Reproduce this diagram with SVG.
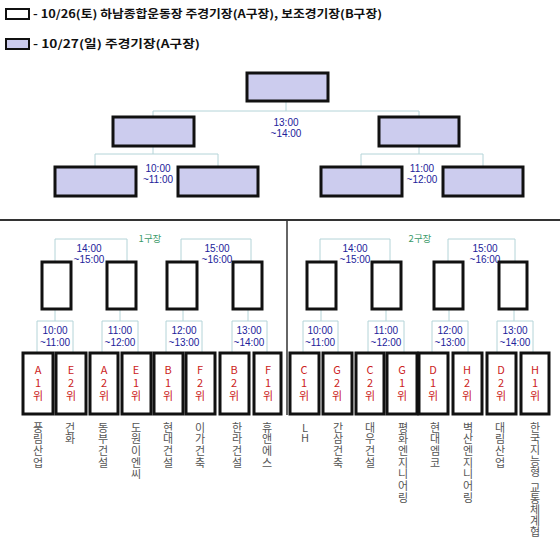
<svg xmlns="http://www.w3.org/2000/svg" width="560" height="559" viewBox="0 0 560 559">
<style>
.leg{font-family:"Noto Sans CJK KR","Liberation Sans",sans-serif;font-weight:bold;font-size:11px;fill:#111}
.lbox{stroke:#111;stroke-width:2}
.tb{fill:#ccccee;stroke:#111;stroke-width:3}
.wb{fill:#fff;stroke:#111;stroke-width:3}
.ln{fill:none;stroke:#b4d4d8;stroke-width:1}
.tm{font-family:"Liberation Sans","Noto Sans CJK KR",sans-serif;font-size:10px;fill:#22229a;text-anchor:middle}
.grp{font-family:"Noto Sans CJK KR","Liberation Sans",sans-serif;font-size:9.5px;fill:#3a9a6a;text-anchor:middle}
.rk{font-family:"Noto Sans CJK KR","Liberation Sans",sans-serif;font-size:11px;fill:#cc2222;writing-mode:vertical-rl;text-orientation:upright;letter-spacing:2px}
.nm{font-family:"Noto Sans CJK KR","Liberation Sans",sans-serif;font-size:11px;fill:#555;writing-mode:vertical-rl;text-orientation:upright;letter-spacing:0.7px}
</style>

<g id="legend">
<rect class="lbox" x="6" y="9" width="23" height="10" fill="#fff"/>
<text class="leg" x="33" y="18" textLength="349" lengthAdjust="spacingAndGlyphs">- 10/26(토) 하남종합운동장 주경기장(A구장), 보조경기장(B구장)</text>
<rect class="lbox" x="6" y="39" width="23" height="10" fill="#ccccee"/>
<text class="leg" x="33" y="48" textLength="167" lengthAdjust="spacingAndGlyphs">- 10/27(일) 주경기장(A구장)</text>
</g>

<g id="connectors">
<polyline class="ln" points="286,101 286,111"/>
<polyline class="ln" points="153,117 153,111 419,111 419,117"/>
<polyline class="ln" points="153,146 153,154"/>
<polyline class="ln" points="95,167 95,154 218,154 218,167"/>
<polyline class="ln" points="419,146 419,154"/>
<polyline class="ln" points="361,167 361,154 483,154 483,167"/>

<polyline class="ln" points="55,262 55,239 127,239 127,262"/>
<polyline class="ln" points="181,262 181,239 251,239 251,262"/>
<polyline class="ln" points="320,262 320,239 390,239 390,262"/>
<polyline class="ln" points="448,262 448,239 515,239 515,262"/>

<polyline class="ln" points="55,309 55,321"/>
<polyline class="ln" points="37,353 37,321 73,321 73,353"/>
<polyline class="ln" points="120,309 120,321"/>
<polyline class="ln" points="102,353 102,321 138,321 138,353"/>
<polyline class="ln" points="183,309 183,321"/>
<polyline class="ln" points="166,353 166,321 202,321 202,353"/>
<polyline class="ln" points="248,309 248,321"/>
<polyline class="ln" points="232,353 232,321 267,321 267,353"/>

<polyline class="ln" points="321,309 321,321"/>
<polyline class="ln" points="303,353 303,321 338,321 338,353"/>
<polyline class="ln" points="386,309 386,321"/>
<polyline class="ln" points="368,353 368,321 404,321 404,353"/>
<polyline class="ln" points="449,309 449,321"/>
<polyline class="ln" points="432,353 432,321 468,321 468,353"/>
<polyline class="ln" points="514,309 514,321"/>
<polyline class="ln" points="497,353 497,321 533,321 533,353"/>
</g>

<g id="dividers">
<line x1="0" y1="220" x2="560" y2="220" stroke="#333" stroke-width="2"/>
<line x1="287" y1="220" x2="287" y2="415" stroke="#333" stroke-width="1.5"/>
</g>

<g id="tree-top">
<rect class="tb" x="247" y="73" width="81" height="28"/>
<rect class="tb" x="113" y="117" width="81" height="29"/>
<rect class="tb" x="379" y="117" width="80" height="29"/>
<rect class="tb" x="55" y="167" width="81" height="29"/>
<rect class="tb" x="178" y="167" width="80" height="29"/>
<rect class="tb" x="321" y="167" width="81" height="29"/>
<rect class="tb" x="443" y="167" width="80" height="29"/>
</g>

<g id="tree-labels">
<text class="tm" x="286" y="126">13:00</text>
<text class="tm" x="286" y="137">~14:00</text>
<text class="tm" x="158" y="172">10:00</text>
<text class="tm" x="158" y="183">~11:00</text>
<text class="tm" x="422" y="172">11:00</text>
<text class="tm" x="422" y="183">~12:00</text>
</g>

<g id="group1-head">
<text class="grp" x="150" y="242">1구장</text>
<text class="tm" x="89" y="252">14:00</text>
<text class="tm" x="89" y="263">~15:00</text>
<text class="tm" x="217" y="252">15:00</text>
<text class="tm" x="217" y="263">~16:00</text>
<rect class="wb" x="42" y="262" width="29" height="47"/>
<rect class="wb" x="107" y="262" width="29" height="47"/>
<rect class="wb" x="167" y="262" width="30" height="47"/>
<rect class="wb" x="233" y="262" width="29" height="47"/>
<text class="tm" x="55" y="334">10:00</text>
<text class="tm" x="55" y="346">~11:00</text>
<text class="tm" x="120" y="334">11:00</text>
<text class="tm" x="120" y="346">~12:00</text>
<text class="tm" x="184" y="334">12:00</text>
<text class="tm" x="184" y="346">~13:00</text>
<text class="tm" x="249" y="334">13:00</text>
<text class="tm" x="249" y="346">~14:00</text>
</g>

<g id="group2-head">
<text class="grp" x="420" y="242">2구장</text>
<text class="tm" x="355" y="252">14:00</text>
<text class="tm" x="355" y="263">~15:00</text>
<text class="tm" x="485" y="252">15:00</text>
<text class="tm" x="485" y="263">~16:00</text>
<rect class="wb" x="307" y="262" width="29" height="47"/>
<rect class="wb" x="372" y="262" width="29" height="47"/>
<rect class="wb" x="434" y="262" width="29" height="47"/>
<rect class="wb" x="499" y="262" width="28" height="47"/>
<text class="tm" x="320" y="334">10:00</text>
<text class="tm" x="320" y="346">~11:00</text>
<text class="tm" x="386" y="334">11:00</text>
<text class="tm" x="386" y="346">~12:00</text>
<text class="tm" x="450" y="334">12:00</text>
<text class="tm" x="450" y="346">~13:00</text>
<text class="tm" x="515" y="334">13:00</text>
<text class="tm" x="515" y="346">~14:00</text>
</g>

<g id="team-A1"><rect class="wb" x="23" y="353" width="30" height="61"/><text class="rk" x="38" y="364">A1위</text><text class="nm" x="38" y="422">풍림산업</text></g>
<g id="team-E2"><rect class="wb" x="56" y="353" width="30" height="61"/><text class="rk" x="71" y="364">E2위</text><text class="nm" x="70" y="422">건화</text></g>
<g id="team-A2"><rect class="wb" x="90" y="353" width="28" height="61"/><text class="rk" x="104" y="364">A2위</text><text class="nm" x="103" y="422">동부건설</text></g>
<g id="team-E1"><rect class="wb" x="122" y="353" width="29" height="61"/><text class="rk" x="136" y="364">E1위</text><text class="nm" x="136" y="422">도원이엔씨</text></g>
<g id="team-B1"><rect class="wb" x="154" y="353" width="29" height="61"/><text class="rk" x="168" y="364">B1위</text><text class="nm" x="168" y="422">현대건설</text></g>
<g id="team-F2"><rect class="wb" x="186" y="353" width="29" height="61"/><text class="rk" x="200" y="364">F2위</text><text class="nm" x="200" y="422">이가건축</text></g>
<g id="team-B2"><rect class="wb" x="220" y="353" width="29" height="61"/><text class="rk" x="234" y="364">B2위</text><text class="nm" x="237" y="422">한라건설</text></g>
<g id="team-F1"><rect class="wb" x="254" y="353" width="27" height="61"/><text class="rk" x="268" y="364">F1위</text><text class="nm" x="267" y="422">휴앤에스</text></g>

<g id="team-C1"><rect class="wb" x="290" y="353" width="29" height="61"/><text class="rk" x="304" y="364">C1위</text><text class="nm" x="305" y="422" style="letter-spacing:-1px">LH</text></g>
<g id="team-G2"><rect class="wb" x="323" y="353" width="29" height="61"/><text class="rk" x="337" y="364">G2위</text><text class="nm" x="338" y="422">간삼건축</text></g>
<g id="team-C2"><rect class="wb" x="356" y="353" width="28" height="61"/><text class="rk" x="370" y="364">C2위</text><text class="nm" x="370" y="422">대우건설</text></g>
<g id="team-G1"><rect class="wb" x="387" y="353" width="30" height="61"/><text class="rk" x="402" y="364">G1위</text><text class="nm" x="403" y="422">평화엔지니어링</text></g>
<g id="team-D1"><rect class="wb" x="419" y="353" width="29" height="61"/><text class="rk" x="433" y="364">D1위</text><text class="nm" x="435" y="422">현대엠코</text></g>
<g id="team-H2"><rect class="wb" x="453" y="353" width="29" height="61"/><text class="rk" x="467" y="364">H2위</text><text class="nm" x="468" y="422">벽산엔지니어링</text></g>
<g id="team-D2"><rect class="wb" x="487" y="353" width="29" height="61"/><text class="rk" x="501" y="364">D2위</text><text class="nm" x="500" y="422">대림산업</text></g>
<g id="team-H1"><rect class="wb" x="521" y="353" width="28" height="61"/><text class="rk" x="535" y="364">H1위</text><text class="nm" x="535" y="422" style="letter-spacing:0">한국지능형<tspan style="letter-spacing:-6px"> </tspan>교통체계협</text></g>
</svg>
